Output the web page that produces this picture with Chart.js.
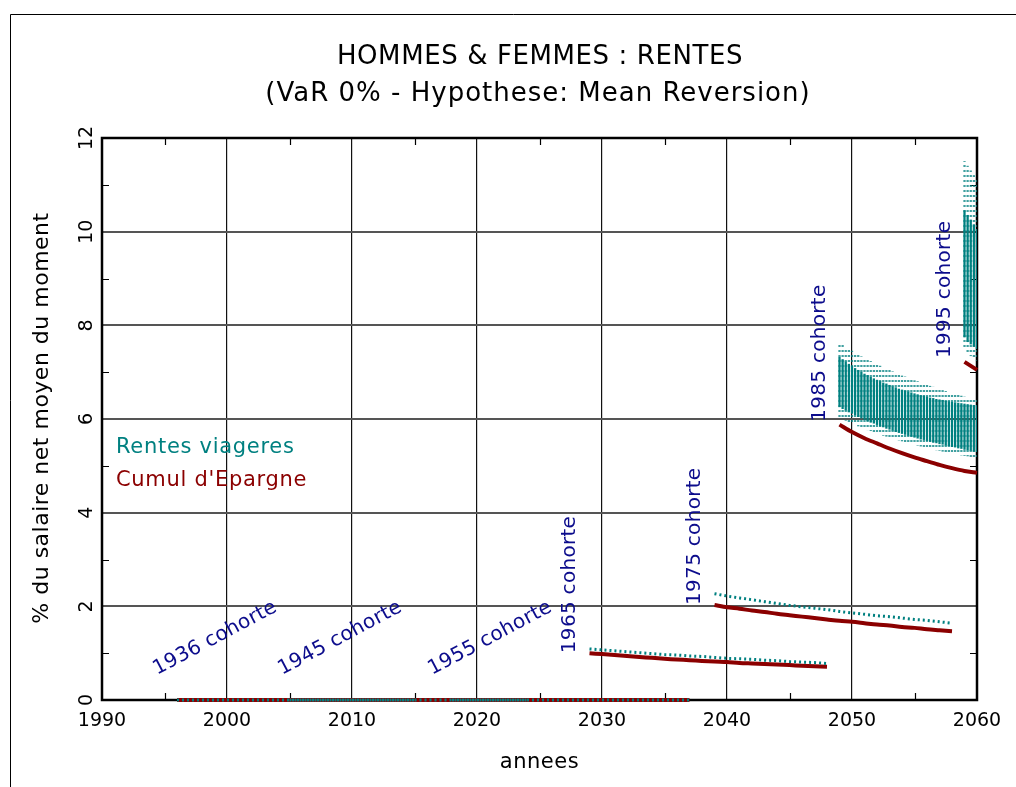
<!DOCTYPE html>
<html>
<head>
<meta charset="utf-8">
<script src="https://cdn.jsdelivr.net/npm/chart.js@4.4.1/dist/chart.umd.min.js"></script>
<style>
  html, body { margin: 0; padding: 0; background: #fff; }
</style>
</head>
<body>
<canvas id="rentesChart" width="1016" height="787"></canvas>
<script>
// zero-valued cohorts (savings and annuity both at 0)
const zeroYears1936 = [1996, 2015];
const zeroYears1945 = [2005, 2024];
const zeroYears1955 = [2018, 2037];
const zeroValues = [0, 0];

// 1965 cohort
const years1965 = [2029, 2030, 2031, 2032, 2033, 2034, 2035, 2036, 2037, 2038, 2039, 2040, 2041, 2042, 2043, 2044, 2045, 2046, 2047, 2048];
const cumul1965 = [1.00, 0.98, 0.96, 0.94, 0.92, 0.90, 0.88, 0.865, 0.85, 0.835, 0.82, 0.81, 0.79, 0.78, 0.77, 0.76, 0.745, 0.73, 0.72, 0.71];
const rentes1965 = [1.09, 1.07, 1.05, 1.03, 1.01, 0.99, 0.97, 0.96, 0.94, 0.93, 0.91, 0.89, 0.88, 0.87, 0.85, 0.84, 0.82, 0.81, 0.80, 0.78];

// 1975 cohort
const years1975 = [2039, 2040, 2041, 2042, 2043, 2044, 2045, 2046, 2047, 2048, 2049, 2050, 2051, 2052, 2053, 2054, 2055, 2056, 2057, 2058];
const cumul1975 = [2.03, 1.98, 1.95, 1.91, 1.88, 1.84, 1.81, 1.78, 1.75, 1.72, 1.69, 1.67, 1.64, 1.61, 1.59, 1.56, 1.54, 1.51, 1.49, 1.47];
const rentes1975 = [2.27, 2.22, 2.18, 2.14, 2.10, 2.06, 2.02, 1.99, 1.96, 1.93, 1.89, 1.86, 1.83, 1.80, 1.78, 1.75, 1.72, 1.70, 1.67, 1.64];

// 1985 cohort
const years1985 = [2049, 2050, 2051, 2052, 2053, 2054, 2055, 2056, 2057, 2058, 2059, 2060];
const cumul1985 = [5.88, 5.72, 5.59, 5.48, 5.37, 5.27, 5.18, 5.10, 5.02, 4.95, 4.89, 4.85];
const quarters1985 = [
  2049, 2049.25, 2049.5, 2049.75, 2050, 2050.25, 2050.5, 2050.75, 2051, 2051.25, 2051.5, 2051.75,
  2052, 2052.25, 2052.5, 2052.75, 2053, 2053.25, 2053.5, 2053.75, 2054, 2054.25, 2054.5, 2054.75,
  2055, 2055.25, 2055.5, 2055.75, 2056, 2056.25, 2056.5, 2056.75, 2057, 2057.25, 2057.5, 2057.75,
  2058, 2058.25, 2058.5, 2058.75, 2059, 2059.25, 2059.5, 2059.75, 2060
];
const rentesMax1985 = [
  7.62, 7.58, 7.53, 7.49, 7.45, 7.41, 7.37, 7.33, 7.30, 7.26, 7.23, 7.19,
  7.16, 7.13, 7.10, 7.07, 7.04, 7.01, 6.98, 6.95, 6.92, 6.90, 6.87, 6.85,
  6.82, 6.80, 6.77, 6.75, 6.72, 6.70, 6.68, 6.65, 6.63, 6.61, 6.59, 6.57,
  6.55, 6.53, 6.51, 6.49, 6.47, 6.45, 6.44, 6.42, 6.40
];
const rentesMin1985 = [
  6.04, 6.01, 5.97, 5.94, 5.91, 5.88, 5.85, 5.83, 5.80, 5.77, 5.75, 5.72,
  5.70, 5.68, 5.65, 5.63, 5.61, 5.59, 5.57, 5.55, 5.53, 5.51, 5.49, 5.48,
  5.46, 5.44, 5.42, 5.41, 5.39, 5.37, 5.36, 5.34, 5.33, 5.31, 5.30, 5.28,
  5.27, 5.26, 5.24, 5.23, 5.22, 5.21, 5.19, 5.18, 5.17
];
const rentesHigh1985 = [
  7.32, 7.27, 7.22, 7.17, 7.12, 7.08, 7.04, 7.00, 6.96, 6.93, 6.89, 6.86,
  6.83, 6.80, 6.77, 6.75, 6.72, 6.69, 6.67, 6.64, 6.62, 6.60, 6.58, 6.56,
  6.54, 6.52, 6.50, 6.49, 6.47, 6.45, 6.44, 6.42, 6.41, 6.40, 6.38, 6.37,
  6.36, 6.35, 6.34, 6.33, 6.32, 6.31, 6.30, 6.29, 6.28
];
const rentesLow1985 = [
  6.26, 6.22, 6.19, 6.15, 6.12, 6.09, 6.05, 6.02, 5.99, 5.96, 5.93, 5.91,
  5.88, 5.85, 5.83, 5.80, 5.78, 5.76, 5.73, 5.71, 5.69, 5.67, 5.65, 5.63,
  5.61, 5.59, 5.57, 5.56, 5.54, 5.52, 5.50, 5.49, 5.47, 5.46, 5.44, 5.43,
  5.41, 5.40, 5.38, 5.37, 5.35, 5.34, 5.33, 5.31, 5.30
];

// 1995 cohort
const years1995 = [2059, 2060];
const cumul1995 = [7.22, 7.05];
const quarters1995 = [2059, 2059.25, 2059.5, 2059.75, 2060];
const rentesMax1995 = [11.5, 11.4, 11.3, 11.2, 11.1];
const rentesMin1995 = [7.5, 7.4, 7.35, 7.3, 7.25];
const rentesHigh1995 = [10.45, 10.35, 10.25, 10.15, 10.05];
const rentesLow1995 = [7.75, 7.65, 7.6, 7.55, 7.5];

// axes
const minorYearTicks = [1995, 2005, 2015, 2025, 2035, 2045, 2055];
const minorValueTicks = [1, 3, 5, 7, 9, 11];
const cohortLabels = ['1936 cohorte', '1945 cohorte', '1955 cohorte', '1965 cohorte', '1975 cohorte', '1985 cohorte', '1995 cohorte'];

const TEAL = '#008080';
const RED = '#8b0000';
const NAVY = '#0c0c8c';
const FONT = '"DejaVu Sans", sans-serif';

// where each cohort label sits, in data units, and its angle
const labelAnchors = [
  [1994.2, 0.63, -28], [2004.2, 0.63, -28], [2016.2, 0.63, -28],
  [2027.4, 1.0, -90], [2037.45, 2.03, -90], [2047.45, 5.94, -90], [2057.45, 7.30, -90]
];

const ctx = document.getElementById('rentesChart').getContext('2d');

function dotPattern(on, off, color) {
  const c = document.createElement('canvas');
  c.width = 1;
  c.height = on + off;
  const g = c.getContext('2d');
  g.fillStyle = color;
  g.fillRect(0, 0, 1, on);
  return ctx.createPattern(c, 'repeat');
}

function pts(xs, ys) {
  return xs.map((x, i) => ({ x: x, y: ys[i] }));
}
function ranges(xs, lo, hi) {
  return xs.map((x, i) => ({ x: x, y: [lo[i], hi[i]] }));
}

const sparseFill = dotPattern(2, 3, 'rgba(0,128,128,0.75)');
const denseFill = TEAL;

function cumulLine(xs, ys) {
  return { type: 'line', data: pts(xs, ys), borderColor: RED, borderWidth: 4, pointRadius: 0, tension: 0.3, order: 2, clip: 4 };
}
function rentesLine(xs, ys) {
  return { type: 'line', data: pts(xs, ys), borderColor: TEAL, borderWidth: 3, borderDash: [2, 3], pointRadius: 0, order: 1, clip: 4 };
}
function rentesBand(xs, lo, hi, fill) {
  return { type: 'bar', data: ranges(xs, lo, hi), backgroundColor: fill, borderWidth: 0, barThickness: 1.6, grouped: false, order: 3 };
}

const datasets = [
  cumulLine(zeroYears1936, zeroValues), rentesLine(zeroYears1936, zeroValues),
  cumulLine(zeroYears1945, zeroValues), rentesLine(zeroYears1945, zeroValues),
  cumulLine(zeroYears1955, zeroValues), rentesLine(zeroYears1955, zeroValues),
  cumulLine(years1965, cumul1965), rentesLine(years1965, rentes1965),
  cumulLine(years1975, cumul1975), rentesLine(years1975, rentes1975),
  rentesBand(quarters1985, rentesMin1985, rentesMax1985, sparseFill),
  rentesBand(quarters1985, rentesLow1985, rentesHigh1985, denseFill),
  cumulLine(years1985, cumul1985),
  rentesBand(quarters1995, rentesMin1995, rentesMax1995, sparseFill),
  rentesBand(quarters1995, rentesLow1995, rentesHigh1995, denseFill),
  cumulLine(years1995, cumul1995)
];

const decorations = {
  id: 'decorations',
  beforeDatasetsDraw(chart) {
    const c = chart.ctx;
    const a = chart.chartArea;
    const xs = chart.scales.x;
    const ys = chart.scales.y;
    c.save();
    // minor ticks, inward on all four sides
    c.strokeStyle = '#000';
    c.lineWidth = 1.2;
    c.beginPath();
    minorYearTicks.forEach(v => {
      const px = Math.round(xs.getPixelForValue(v)) + 0.5;
      c.moveTo(px, a.bottom); c.lineTo(px, a.bottom - 7);
      c.moveTo(px, a.top); c.lineTo(px, a.top + 7);
    });
    minorValueTicks.forEach(v => {
      const py = Math.round(ys.getPixelForValue(v)) + 0.5;
      c.moveTo(a.left, py); c.lineTo(a.left + 7, py);
      c.moveTo(a.right, py); c.lineTo(a.right - 7, py);
    });
    c.stroke();
    // plot box
    c.lineWidth = 2.5;
    c.strokeRect(a.left, a.top, a.right - a.left, a.bottom - a.top);
    c.restore();
  },
  afterDraw(chart) {
    const c = chart.ctx;
    const a = chart.chartArea;
    const xs = chart.scales.x;
    const ys = chart.scales.y;
    c.save();

    // outer frame
    c.strokeStyle = '#000';
    c.lineWidth = 1;
    c.beginPath();
    c.moveTo(10.5, 787);
    c.lineTo(10.5, 14.5);
    c.lineTo(1016, 14.5);
    c.stroke();

    // y tick labels, rotated
    c.fillStyle = '#000';
    c.font = '19px ' + FONT;
    c.textAlign = 'center';
    c.textBaseline = 'middle';
    ys.ticks.forEach(t => {
      c.save();
      c.translate(a.left - 15, ys.getPixelForValue(t.value));
      c.rotate(-Math.PI / 2);
      c.fillText(String(t.value), 0, 0);
      c.restore();
    });

    // titles
    c.font = '26px ' + FONT;
    c.letterSpacing = '0.6px';
    c.fillText('HOMMES & FEMMES : RENTES', 540, 57);
    c.letterSpacing = '1px';
    c.fillText('(VaR 0% - Hypothese: Mean Reversion)', 538, 94);
    c.letterSpacing = '0.5px';
    c.font = '21px ' + FONT;
    c.fillText('annees', (a.left + a.right) / 2, 763);
    c.save();
    c.translate(42, 418);
    c.rotate(-Math.PI / 2);
    c.font = '22px ' + FONT;
    c.fillText('% du salaire net moyen du moment', 0, 0);
    c.restore();

    // legend text
    c.font = '21px ' + FONT;
    c.letterSpacing = '0.7px';
    c.textAlign = 'left';
    c.textBaseline = 'alphabetic';
    c.fillStyle = TEAL;
    c.fillText('Rentes viageres', a.left + 14, 453);
    c.fillStyle = RED;
    c.fillText("Cumul d'Epargne", a.left + 14, 486);

    // cohort labels
    c.font = '20px ' + FONT;
    c.letterSpacing = '0.3px';
    c.fillStyle = NAVY;
    c.textBaseline = 'middle';
    cohortLabels.forEach((txt, i) => {
      const [yr, val, ang] = labelAnchors[i];
      c.save();
      c.translate(xs.getPixelForValue(yr), ys.getPixelForValue(val));
      c.rotate(ang * Math.PI / 180);
      c.fillText(txt, 0, 0);
      c.restore();
    });
    c.restore();
  }
};

new Chart(ctx, {
  type: 'line',
  data: { datasets: datasets },
  options: {
    responsive: false,
    animation: false,
    events: [],
    layout: { padding: { top: 138, right: 39, bottom: 0, left: 0 } },
    plugins: { legend: { display: false }, tooltip: { enabled: false } },
    scales: {
      x: {
        type: 'linear',
        min: 1990,
        max: 2060,
        offset: false,
        afterFit: s => { s.height = 87; },
        ticks: { stepSize: 10, color: '#000', font: { family: FONT, size: 19 }, padding: 10, maxRotation: 0, callback: v => String(v) },
        grid: { color: '#111', lineWidth: 1.2, drawTicks: false, offset: false },
        border: { display: false }
      },
      y: {
        type: 'linear',
        min: 0,
        max: 12,
        afterFit: s => { s.width = 102; },
        ticks: { stepSize: 2, display: false },
        grid: { color: '#555', lineWidth: 2, drawTicks: false },
        border: { display: false }
      }
    }
  },
  plugins: [decorations]
});
</script>
</body>
</html>
